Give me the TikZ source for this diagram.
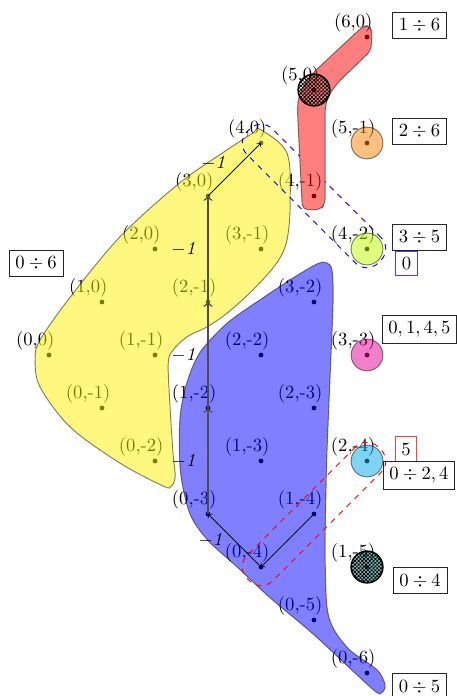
\documentclass[tikz,border=0pt]{standalone}
\usetikzlibrary{calc,patterns}
\pgfdeclarepatternformonly{finecheck}{\pgfqpoint{-0.05pt}{-0.05pt}}{\pgfqpoint{2.05pt}{2.05pt}}{\pgfqpoint{2pt}{2pt}}{%
  \pgfpathrectangle{\pgfqpoint{0pt}{0pt}}{\pgfqpoint{1.02pt}{1.02pt}}%
  \pgfpathrectangle{\pgfqpoint{1pt}{1pt}}{\pgfqpoint{1.02pt}{1.02pt}}%
  \pgfusepath{fill}}
\begin{document}
\begin{tikzpicture}[
  lbl/.style={anchor=south, inner sep=0pt},
  blob/.style={draw=black, opacity=0.5, line width=0.5pt},
  hatch/.style={draw=black, line width=0.8pt, pattern=finecheck},
  box/.style={draw=black!85, inner sep=3.33pt},
  wl/.style={left, inner sep=5pt},
  hop/.style={->, black},
  vhop/.style={->, black!70, line width=0.8pt},
  grp/.style={dashed, rounded corners=0.3cm, minimum width=3.5cm, minimum height=0.68cm, line width=0.5pt, inner sep=0pt},
]
\useasboundingbox (-0.9245,-6.434) rectangle (7.698,6.698);

% dots and labels
\foreach \a/\b/\n in {0/0/p00,1/0/p10,2/0/p20,3/0/p30,4/0/p40,5/0/p50,6/0/p60,
  0/-1/p0m1,1/-1/p1m1,2/-1/p2m1,3/-1/p3m1,4/-1/p4m1,5/-1/p5m1,
  0/-2/p0m2,1/-2/p1m2,2/-2/p2m2,3/-2/p3m2,4/-2/p4m2,
  0/-3/p0m3,1/-3/p1m3,2/-3/p2m3,3/-3/p3m3,
  0/-4/p0m4,1/-4/p1m4,2/-4/p2m4,
  0/-5/p0m5,1/-5/p1m5,0/-6/p0m6}{
  \coordinate (\n) at ({\a-(\b)},{\a+(\b)});
  \fill (\n) circle (0.045);
  \node[lbl] (l\n) at ($(\n)+(-0.26,0.09)$) {(\a,\b)};
}

% yellow blob
\draw[blob, fill=yellow] plot[smooth cycle, tension=0.55] coordinates {
  (3.98,4.26) (4.49,3.81) (4.55,2.87) (4.49,2.17) (4.30,1.74) (3.85,1.23)
  (3.36,0.79) (2.98,0.53) (2.60,0.34) (2.34,0.09) (2.25,-0.15) (2.28,-0.91)
  (2.34,-1.85) (2.38,-2.30) (2.30,-2.48) (2.15,-2.47) (1.34,-2.04) (0.40,-1.36)
  (-0.17,-0.60) (-0.26,-0.09) (-0.17,0.28) (0.40,1.09) (1.34,2.23) (2.47,3.25)
  (3.36,3.87) (3.85,4.19)};

% blue blob
\draw[blob, fill=blue] plot[smooth cycle, tension=0.5] coordinates {
  (5.06,1.72) (5.24,1.74) (5.34,1.60) (5.36,1.0) (5.30,-0.5) (5.24,-2.0)
  (5.21,-3.6) (5.24,-4.7) (5.36,-5.15) (5.68,-5.57) (6.19,-5.94) (6.34,-6.22)
  (6.28,-6.37) (6.1,-6.3) (5.0,-5.28) (4.17,-4.58) (3.55,-4.0) (3.0,-3.5)
  (2.66,-3.0) (2.48,-2.2) (2.47,-1.2) (2.60,-0.53) (2.85,0.05) (3.36,0.60)
  (3.98,1.04) (4.6,1.45)};

% coloured circles
\draw[blob, fill=orange] (p5m1) circle (0.3);
\draw[blob, fill=lime] (p4m2) circle (0.3);
\draw[blob, fill={rgb,1:red,0.9;green,0;blue,0.6}] (p3m3) circle (0.3);
\draw[blob, fill={rgb,1:red,0;green,0.66;blue,0.92}] (p2m4) circle (0.3);

% dashed groups
\node[grp, draw=blue, rotate=-45] (gblue) at ($(p40)!0.5!(p4m2)$) {};
\node[grp, draw=red, rotate=45] (gred) at ($(p0m4)!0.5!(p2m4)$) {};

% red blob
\begin{scope}
  \clip[rounded corners=3pt] (4.78,2.74) -- (4.69,4.55) .. controls (4.69,4.95) and (4.85,5.2) .. (5.15,5.48) -- (5.92,6.2) -- (6.05,6.22) -- (6.09,6.1) -- (6.08,5.75) -- (5.68,5.36) .. controls (5.35,5.05) and (5.21,4.85) .. (5.21,4.45) -- (5.21,2.85) -- (5.12,2.74) -- cycle;
  \fill[white] (3,2) rectangle (7,7);
  \foreach \a/\b/\n in {4/-1/p4m1,5/0/p50,6/0/p60}{
    \fill (\n) circle (0.045);
    \node[lbl] (r\n) at ($(\n)+(-0.26,0.09)$) {(\a,\b)};
  }
\end{scope}
\draw[blob, fill=red, rounded corners=3pt] (4.78,2.74) -- (4.69,4.55) .. controls (4.69,4.95) and (4.85,5.2) .. (5.15,5.48) -- (5.92,6.2) -- (6.05,6.22) -- (6.09,6.1) -- (6.08,5.75) -- (5.68,5.36) .. controls (5.35,5.05) and (5.21,4.85) .. (5.21,4.45) -- (5.21,2.85) -- (5.12,2.74) -- cycle;

% hatched circles
\fill[teal, opacity=0.5] (p1m5) circle (0.3);
\draw[hatch] (p1m5) circle (0.3);
\draw[hatch] (p50) circle (0.3);

% arrows
\draw[vhop] (p0m3) -- node[wl, text=black] {$-\mathit{1}$} (p1m2);
\draw[vhop] (p1m2) -- node[wl, text=black] {$-\mathit{1}$} (p2m1);
\draw[vhop] (p2m1) -- node[wl, text=black] {$-\mathit{1}$} (p30);
\draw[hop] (p30) -- node[wl, yshift=3.5pt, xshift=1.5pt] {$-\mathit{1}$} (p40);
\draw[hop] (p1m4) -- (p0m4);
\draw[hop] (p0m4) -- node[wl] {$-\mathit{1}$} (p0m3);

% boxes
\node[box] (b16) at (6.99,6.217) {$1\div 6$};
\node[box] (b26) at (6.99,4.226) {$2\div 6$};
\node[box] (b35) at (6.99,2.226) {$3\div 5$};
\node[box, draw=blue!75] (b0) at (6.745,1.726) {$0$};
\node[box] (b0145) at (6.99,0.48) {$0,1,4,5$};
\node[box, draw=red!75] (b5) at (6.736,-1.774) {$5$};
\node[box] (b024) at (6.98,-2.27) {$0\div 2,4$};
\node[box] (b04) at (7.0,-4.26) {$0\div 4$};
\node[box] (b05) at (6.99,-6.26) {$0\div 5$};
\node[box] (b06) at (-0.245,1.726) {$0\div 6$};
\end{tikzpicture}
\end{document}
